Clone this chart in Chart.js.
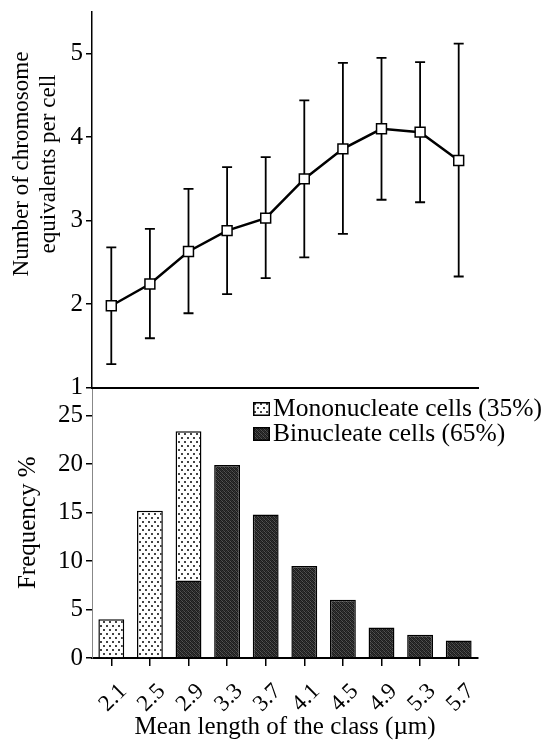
<!DOCTYPE html>
<html>
<head>
<meta charset="utf-8">
<script src="https://cdn.jsdelivr.net/npm/chart.js@4.4.1/dist/chart.umd.min.js"></script>
<style>
  html, body { margin: 0; padding: 0; background: #fff; }
  #wrap { position: relative; width: 542px; height: 740px; overflow: hidden; }
  #topChart { position: absolute; left: 0; top: 0; z-index: 2; }
  #botChart { position: absolute; left: 0; top: 380px; z-index: 1; }
  #legend {
    position: absolute; left: 253px; top: 395px; z-index: 3;
    font: 25.5px "Liberation Serif", "Times New Roman", serif; line-height: 25px; color: #000;
  }
  #legend .row { white-space: nowrap; }
  #legend canvas { vertical-align: baseline; margin-right: 3px; }
</style>
</head>
<body>
<div id="wrap">
  <canvas id="topChart" width="542" height="400"></canvas>
  <canvas id="botChart" width="542" height="360"></canvas>
  <div id="legend"></div>
</div>
<script>
// ── Data ─────────────────────────────────────────────────────
const classes      = ['2.1', '2.5', '2.9', '3.3', '3.7', '4.1', '4.5', '4.9', '5.3', '5.7'];
const chromMean    = [1.98, 2.24, 2.63, 2.88, 3.03, 3.50, 3.86, 4.10, 4.06, 3.72];
const chromLow     = [1.28, 1.59, 1.89, 2.12, 2.31, 2.56, 2.84, 3.25, 3.22, 2.33];
const chromHigh    = [2.68, 2.90, 3.38, 3.64, 3.76, 4.44, 4.89, 4.95, 4.90, 5.12];
const mononucleate = [4.0, 15.2, 15.4, 0, 0, 0, 0, 0, 0, 0];
const binucleate   = [0, 0, 8.0, 19.9, 14.8, 9.5, 6.0, 3.15, 2.4, 1.8];
const chromTicks   = [1, 2, 3, 4, 5];
const freqTicks    = [0, 5, 10, 15, 20, 25];

const SERIF = '"Liberation Serif", "Times New Roman", serif';
Chart.defaults.font.family = SERIF;
Chart.defaults.color = '#000';
Chart.defaults.animation = false;

// ── Fill patterns ────────────────────────────────────────────
function dotTile() {
  const c = document.createElement('canvas');
  c.width = 6; c.height = 8;
  const g = c.getContext('2d');
  g.fillStyle = '#fff'; g.fillRect(0, 0, 6, 8);
  g.fillStyle = '#444';
  g.fillRect(1, 1, 2, 2);
  g.fillRect(4, 5, 2, 2);
  return c;
}
function speckTile() {
  const shades = [
    [0x1a, 0x4c, 0x22, 0x2e],
    [0x34, 0x1e, 0x58, 0x1a],
    [0x22, 0x2e, 0x1a, 0x48],
    [0x54, 0x1a, 0x38, 0x22],
  ];
  const c = document.createElement('canvas');
  c.width = 4; c.height = 4;
  const g = c.getContext('2d');
  shades.forEach((row, y) => row.forEach((v, x) => {
    g.fillStyle = `rgb(${v},${v},${v})`;
    g.fillRect(x, y, 1, 1);
  }));
  return c;
}
const botCtx    = document.getElementById('botChart').getContext('2d');
const dotFill   = botCtx.createPattern(dotTile(), 'repeat');
const speckFill = botCtx.createPattern(speckTile(), 'repeat');

// ── Plugins ──────────────────────────────────────────────────
const errorBars = {
  id: 'errorBars',
  beforeDatasetsDraw(chart) {
    const { ctx, scales: { x, y } } = chart;
    ctx.save();
    ctx.strokeStyle = '#000';
    ctx.lineWidth = 1.8;
    chromMean.forEach((_, i) => {
      const px  = x.getPixelForValue(i);
      const top = y.getPixelForValue(chromHigh[i]);
      const bot = y.getPixelForValue(chromLow[i]);
      ctx.beginPath();
      ctx.moveTo(px, top);     ctx.lineTo(px, bot);
      ctx.moveTo(px - 5, top); ctx.lineTo(px + 5, top);
      ctx.moveTo(px - 5, bot); ctx.lineTo(px + 5, bot);
      ctx.stroke();
    });
    ctx.restore();
  }
};

// two-line rotated axis title, placed off-centre like the original
const sideTitle = {
  id: 'sideTitle',
  afterDraw(chart, args, opts) {
    const { ctx } = chart;
    ctx.save();
    ctx.font = opts.font;
    ctx.fillStyle = '#000';
    ctx.textAlign = 'center';
    ctx.textBaseline = 'middle';
    opts.lines.forEach((t, k) => {
      ctx.save();
      ctx.translate(opts.x + k * opts.lineHeight, opts.y);
      ctx.rotate(-Math.PI / 2);
      ctx.fillText(t, 0, 0);
      ctx.restore();
    });
    ctx.restore();
  }
};

const noPad = s => { s.paddingTop = 0; s.paddingBottom = 0; s.paddingLeft = 0; s.paddingRight = 0; };

// ── Top: chromosome equivalents ──────────────────────────────
new Chart(document.getElementById('topChart'), {
  type: 'line',
  data: {
    labels: classes,
    datasets: [{
      data: chromMean,
      borderColor: '#000',
      borderWidth: 2.5,
      tension: 0,
      pointStyle: 'rect',
      pointRadius: 7,
      pointBackgroundColor: '#fff',
      pointBorderColor: '#000',
      pointBorderWidth: 1.5,
    }],
  },
  options: {
    responsive: false,
    layout: { padding: { top: 12, right: 64, bottom: 12.5, left: 0 } },
    plugins: {
      legend: { display: false },
      tooltip: { enabled: false },
      sideTitle: {
        lines: ['Number of chromosome', 'equivalents per cell'],
        x: 22, y: 164, lineHeight: 26.6,
        font: `23px ${SERIF}`,
      },
    },
    scales: {
      x: {
        offset: true,
        ticks: { display: false },
        grid: { display: false },
        border: { display: true, color: '#000', width: 2 },
        afterFit: s => { s.height = 0; noPad(s); },
      },
      y: {
        min: 1, max: 5.5,
        afterBuildTicks: s => { s.ticks = chromTicks.map(v => ({ value: v })); },
        ticks: { font: { size: 25 }, color: '#000', padding: 3 },
        grid: { drawOnChartArea: false, drawTicks: true, tickLength: 6, color: '#000', lineWidth: 1.5 },
        border: { display: true, color: '#000', width: 1.5 },
        afterFit: s => { s.width = 92; noPad(s); },
      },
    },
  },
  plugins: [errorBars, sideTitle],
});

// ── Bottom: frequency histogram ──────────────────────────────
const barChart = new Chart(botCtx, {
  type: 'bar',
  data: {
    labels: classes,
    datasets: [
      { label: 'Binucleate cells (65%)',   data: binucleate,   backgroundColor: speckFill },
      { label: 'Mononucleate cells (35%)', data: mononucleate, backgroundColor: dotFill },
    ].map(d => Object.assign(d, {
      borderColor: '#000', borderWidth: 1.5, barPercentage: 0.67, categoryPercentage: 1,
    })),
  },
  options: {
    responsive: false,
    layout: { padding: { top: 7.5, right: 64, bottom: 0, left: 0 } },
    plugins: { legend: { display: false }, tooltip: { enabled: false } },
    scales: {
      x: {
        stacked: true,
        ticks: {
          font: { size: 23 }, color: '#000', autoSkip: false,
          minRotation: 45, maxRotation: 45, padding: 12, labelOffset: 12,
        },
        grid: { display: true, drawOnChartArea: false, drawTicks: true, tickLength: 8, color: '#000', lineWidth: 1.5, offset: false },
        border: { display: true, color: '#000', width: 2 },
        title: {
          display: true, text: 'Mean length of the class (µm)',
          font: { size: 25, lineHeight: 1.0 }, padding: { top: 0, bottom: 0 },
        },
        afterFit: s => { s.height = 82; noPad(s); },
      },
      y: {
        stacked: true,
        min: 0, max: 27.9,
        afterBuildTicks: s => { s.ticks = freqTicks.map(v => ({ value: v })); },
        ticks: { font: { size: 25 }, color: '#000', padding: 3 },
        grid: { drawOnChartArea: false, drawTicks: true, tickLength: 6, color: '#000', lineWidth: 1.5 },
        border: { display: true, color: '#888', width: 1, dash: [2, 2] },
        title: {
          display: true, text: 'Frequency %',
          font: { size: 25, lineHeight: 1.0 }, padding: { top: 16, bottom: 0 },
        },
        afterFit: s => { s.width = 92; noPad(s); },
      },
    },
  },
});

// ── HTML legend (mononucleate first, as in the figure) ───────
const legendEl = document.getElementById('legend');
barChart.data.datasets.slice().reverse().forEach(ds => {
  const row = document.createElement('div');
  row.className = 'row';
  const sw = document.createElement('canvas');
  sw.width = 17; sw.height = 14;
  const g = sw.getContext('2d');
  g.fillStyle = g.createPattern(ds === barChart.data.datasets[1] ? dotTile() : speckTile(), 'repeat');
  g.fillRect(0, 0, 17, 14);
  g.strokeStyle = '#000'; g.lineWidth = 1.5;
  g.strokeRect(0.75, 0.75, 15.5, 12.5);
  row.appendChild(sw);
  row.appendChild(document.createTextNode(ds.label));
  legendEl.appendChild(row);
});
</script>
</body>
</html>
